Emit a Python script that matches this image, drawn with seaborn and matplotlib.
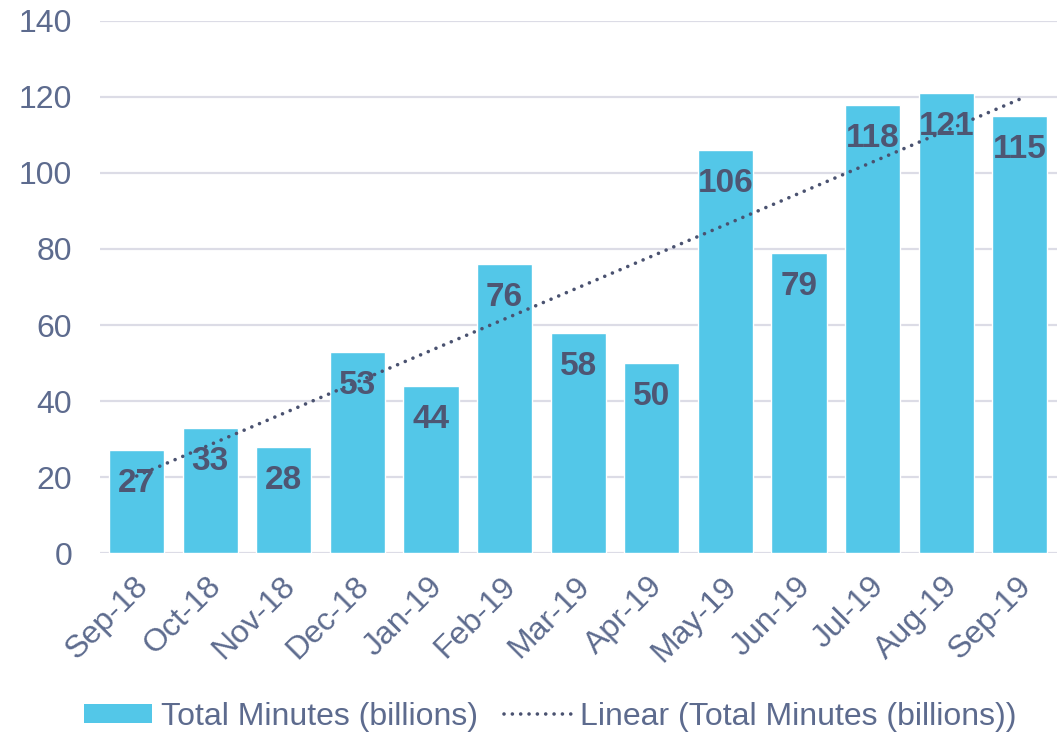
import numpy as np
import pandas as pd
import matplotlib
matplotlib.use("Agg")
import matplotlib.pyplot as plt
import matplotlib.transforms as mtransforms
import seaborn as sns
from matplotlib.patches import Patch
from matplotlib.lines import Line2D

months = ["Sep-18", "Oct-18", "Nov-18", "Dec-18", "Jan-19", "Feb-19", "Mar-19",
          "Apr-19", "May-19", "Jun-19", "Jul-19", "Aug-19", "Sep-19"]
minutes = [27, 33, 28, 53, 44, 76, 58, 50, 106, 79, 118, 121, 115]
yticks = [0, 20, 40, 60, 80, 100, 120, 140]

BAR = "#53c7e8"
TEXT = "#5d6b8e"
LABEL = "#4e5673"
TREND = "#4a5270"
GRID = "#dcdce6"

sns.set_theme(style="white")
plt.rcParams["font.family"] = ["Liberation Sans", "DejaVu Sans"]

df = pd.DataFrame({"month": months, "minutes": minutes})

fig = plt.figure(figsize=(10.63, 7.36), dpi=100)
ax = fig.add_axes([0.094, 0.2486, 0.9, 0.7229])

sns.barplot(data=df, x="month", y="minutes", color=BAR, saturation=1,
            width=0.75, ax=ax, zorder=2)

# least-squares trend line across the months
xs = np.arange(len(minutes))
slope, intercept = np.polyfit(xs, minutes, 1)
ax.plot(xs, slope * xs + intercept, color=TREND, lw=2.6,
        linestyle=(0, (0.01, 2.3)), dash_capstyle="round", zorder=4)

# value labels inside the top of each bar
for x, v in zip(xs, minutes):
    ax.text(x, v - 8.8, f"{v}", ha="center", va="center", fontsize=24,
            fontweight="bold", color=LABEL, zorder=5)

ax.set_xlim(-0.5, len(minutes) - 0.5)
ax.set_ylim(0, 140)
ax.set_yticks(yticks)
ax.set_yticklabels([str(t) for t in yticks])
ax.yaxis.grid(True, color=GRID, lw=1.6, zorder=0)
ax.set_axisbelow(True)
for s in ax.spines.values():
    s.set_visible(False)
ax.set_xlabel("")
ax.set_ylabel("")
ax.tick_params(axis="y", labelsize=23, colors=TEXT, length=0, pad=20)
ax.tick_params(axis="x", labelsize=23, colors=TEXT, length=0, pad=13)
shift = mtransforms.ScaledTranslation(-4 / 100, 0, fig.dpi_scale_trans)
for lbl in ax.get_xticklabels():
    lbl.set_rotation(45)
    lbl.set_ha("right")
    lbl.set_rotation_mode("anchor")
    lbl.set_transform(lbl.get_transform() + shift)

handles = [Patch(facecolor=BAR, edgecolor="none"),
           Line2D([0], [0], color=TREND, lw=2.6, linestyle=(0, (0.01, 2.3)),
                  dash_capstyle="round")]
fig.legend(handles, ["Total Minutes (billions)", "Linear (Total Minutes (billions))"],
           loc="center", bbox_to_anchor=(0.518, 0.026), ncol=2, frameon=False,
           fontsize=23, labelcolor=TEXT, handlelength=2.1, handleheight=0.55,
           handletextpad=0.3, columnspacing=0.8, borderpad=0)

fig.savefig("out.png", dpi=100)
